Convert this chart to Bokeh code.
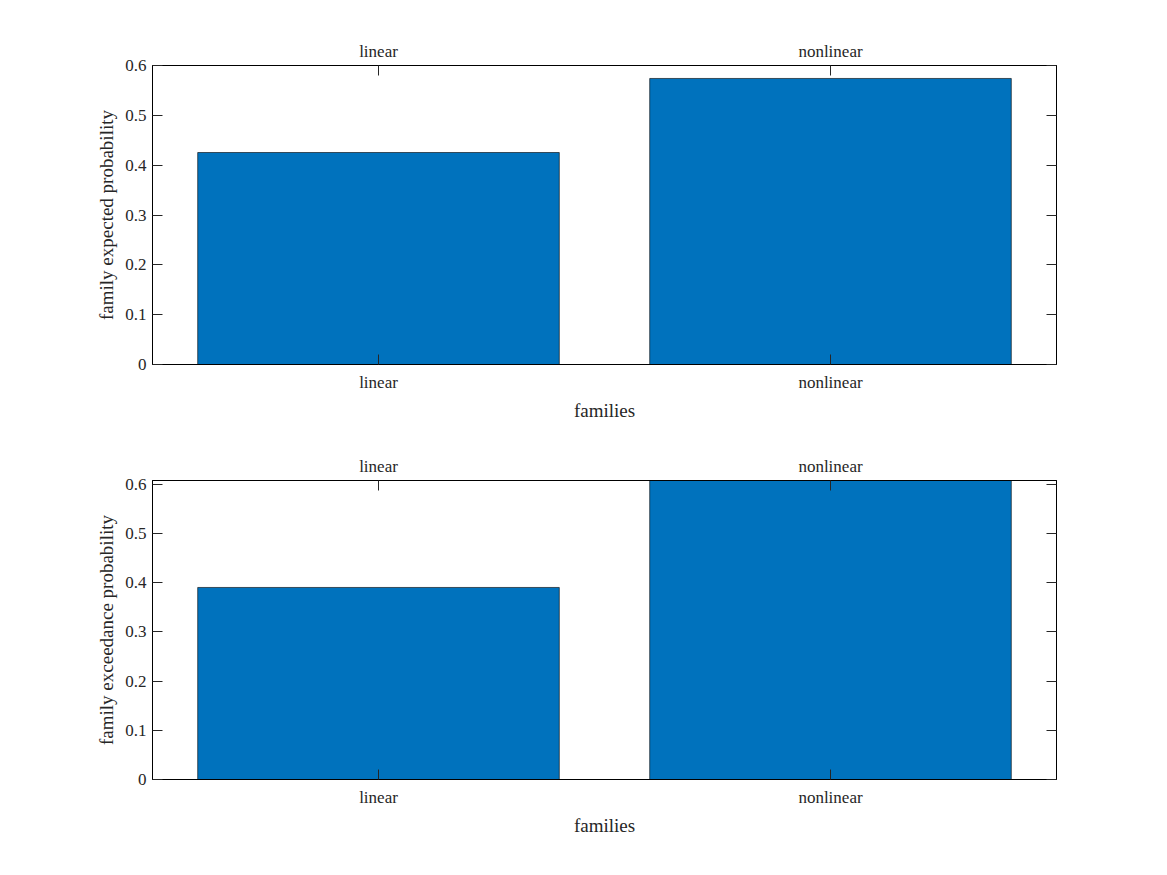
from bokeh.plotting import figure
from bokeh.layouts import column
from bokeh.models import FixedTicker, LinearAxis, CategoricalAxis, Range1d, FactorRange
from bokeh.embed import file_html
from bokeh.resources import INLINE

families = ["linear", "nonlinear"]
expected_prob = [0.4254, 0.574]
exceedance_prob = [0.3905, 0.608]
y_ticks = [0, 0.1, 0.2, 0.3, 0.4, 0.5, 0.6]
FONT = "Liberation Serif"
TXT = "#262626"

def style_axis(ax):
    ax.major_tick_in = 10
    ax.major_tick_out = 0
    ax.minor_tick_in = 0
    ax.minor_tick_out = 0
    ax.axis_line_color = "black"
    ax.major_tick_line_color = TXT
    ax.major_label_text_font = FONT
    ax.major_label_text_font_size = "17px"
    ax.major_label_text_color = TXT
    ax.axis_label_text_font = FONT
    ax.axis_label_text_font_size = "19px"
    ax.axis_label_text_font_style = "normal"
    ax.axis_label_text_color = TXT

def make(vals, ylabel, ymax, top_border, bottom_border):
    p = figure(x_range=FactorRange(*families, range_padding=0), y_range=Range1d(0, ymax),
               width=1159, height=top_border + 299 + bottom_border,
               output_backend="svg", toolbar_location=None,
               min_border_left=152, min_border_right=103,
               min_border_top=top_border, min_border_bottom=bottom_border)
    p.vbar(x=families, top=vals, width=0.8, fill_color="#0072BD", line_color="black", line_width=0.6)
    p.xgrid.visible = False
    p.ygrid.visible = False
    p.outline_line_color = "black"
    p.xaxis.axis_label = "families"
    p.yaxis.axis_label = ylabel
    p.yaxis.ticker = FixedTicker(ticks=y_ticks)
    p.yaxis.major_label_overrides = {0: "0"}
    style_axis(p.xaxis[0]); style_axis(p.yaxis[0])
    p.xaxis.major_label_standoff = 8
    p.yaxis.major_label_standoff = 6
    r = LinearAxis(ticker=FixedTicker(ticks=y_ticks)); style_axis(r)
    r.major_label_overrides = {t: "" for t in y_ticks}
    p.add_layout(r, "right")
    a = CategoricalAxis(); style_axis(a)
    a.major_label_overrides = {f: "" for f in families}
    p.add_layout(a, "above")
    return p

p1 = make(expected_prob, "family expected probability", 0.6, 65, 60)
p2 = make(exceedance_prob, "family exceedance probability", 0.608, 56, 80)
p = column(p1, p2, spacing=0)
open("out.html", "w").write(file_html(p, INLINE))
